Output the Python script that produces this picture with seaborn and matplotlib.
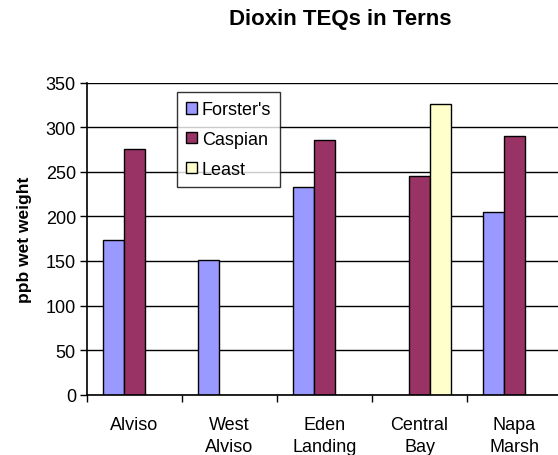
import matplotlib
matplotlib.use("Agg")
import matplotlib.pyplot as plt
import seaborn as sns
import pandas as pd
import numpy as np

sns.set_theme(style="white")
plt.rcParams['font.family'] = ['Liberation Sans', 'DejaVu Sans']
plt.rcParams['text.color'] = 'black'
plt.rcParams['axes.labelcolor'] = 'black'
plt.rcParams['xtick.color'] = 'black'
plt.rcParams['ytick.color'] = 'black'

# data
sites = ["Alviso", "West\nAlviso", "Eden\nLanding", "Central\nBay", "Napa\nMarsh"]
species = ["Forster's", "Caspian", "Least"]
forsters = [173, 151, 233, np.nan, 205]
caspian = [276, np.nan, 286, 245, 290]
least = [np.nan, np.nan, np.nan, 326, np.nan]
colors = {"Forster's": "#9999FF", "Caspian": "#993366", "Least": "#FFFFCC"}

rows = []
for s, vals in zip(species, [forsters, caspian, least]):
    for site, v in zip(sites, vals):
        rows.append({"Site": site, "TEQ": v, "Species": s})
df = pd.DataFrame(rows)

fig = plt.figure(figsize=(5.58, 4.56), dpi=100)
ax = fig.add_axes([87 / 558, 60.3 / 456, 475 / 558, 312.2 / 456])

sns.barplot(data=df, x="Site", y="TEQ", hue="Species", order=sites,
            hue_order=species, palette=colors, width=0.67, gap=0,
            edgecolor="black", linewidth=1, saturation=1, ax=ax)

ax.set_ylim(0, 350)
ax.set_xlim(-0.5, len(sites) - 0.5)
ax.set_yticks(range(0, 351, 50))
ax.yaxis.grid(True, color="black", linewidth=1)
ax.set_axisbelow(True)

for side in ["top", "right"]:
    ax.spines[side].set_visible(False)
for side in ["left", "bottom"]:
    ax.spines[side].set_color("black")
    ax.spines[side].set_linewidth(1.2)

ax.set_xticks(np.arange(len(sites) + 1) - 0.5, minor=True)
ax.tick_params(axis="x", which="major", length=0, labelsize=13, pad=15)
ax.tick_params(axis="x", which="minor", length=5, width=1, color="black", direction="out", bottom=True)
ax.tick_params(axis="y", length=5, width=1, color="black", direction="out", left=True, labelsize=13, pad=3)
for lab in ax.get_xticklabels():
    lab.set_linespacing(1.45)

ax.set_xlabel("")
ax.set_ylabel("ppb wet weight", fontsize=12.5, fontweight="bold", labelpad=10)

fig.text(340 / 558, 1 - 20 / 456, "Dioxin TEQs in Terns", ha="center", va="center",
         fontsize=16, fontweight="bold")

leg = ax.legend(loc="upper left", bbox_to_anchor=((176.7 - 87) / 475, (395.7 - 93.3) / 312.2),
                fontsize=13, frameon=True, fancybox=False, edgecolor="black",
                handlelength=0.6, handleheight=0.6, handletextpad=0.3,
                labelspacing=0.7, borderpad=0.5, borderaxespad=0)
leg.get_frame().set_linewidth(1)

fig.savefig("out.png", dpi=100)
